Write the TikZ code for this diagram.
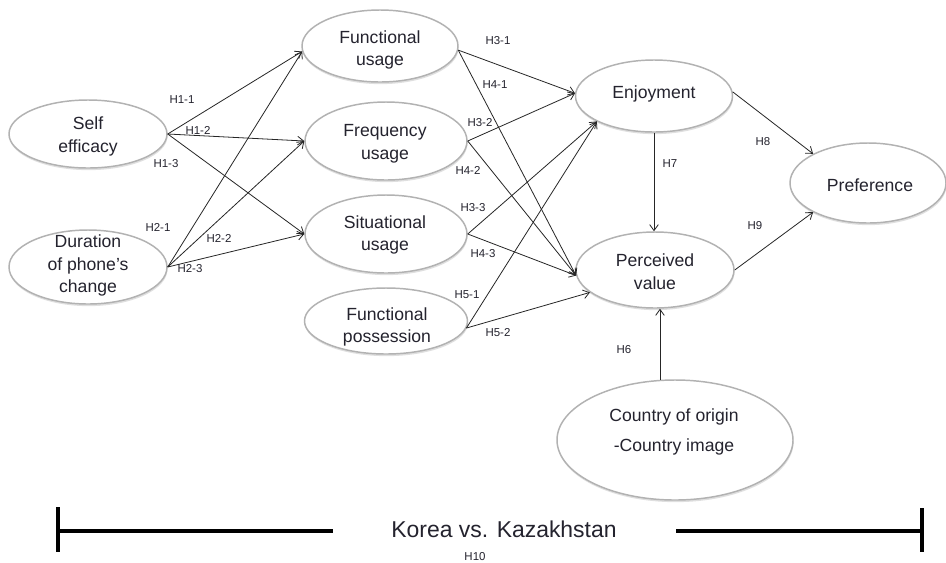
\documentclass[tikz,border=0pt]{standalone}
\usepackage{fontspec}
\setmainfont{Liberation Sans}
\usetikzlibrary{shapes.geometric,arrows.meta,shadows}
\definecolor{txt}{HTML}{24232E}
\pgfdeclareradialshading{ellsh}{\pgfpoint{0bp}{0bp}}{color(0bp)=(white); color(30bp)=(white); color(43bp)=(black!9); color(50bp)=(black!28)}
\begin{document}
\begin{tikzpicture}[x=0.75pt,y=-0.75pt,
  ell/.style 2 args={ellipse, inner sep=0pt, minimum width=#1*0.75pt, minimum height=#2*0.75pt,
    draw=gray!60, line width=1.1pt, shading=ellsh,
    drop shadow={shadow xshift=0.4pt, shadow yshift=-1.6pt, opacity=0.25, fill=gray}},
  tx/.style={align=center, text=txt, inner sep=0pt, font=\fontsize{13.2}{17}\selectfont},
  lab/.style={font=\fontsize{8.6}{10}\selectfont, text=txt, inner sep=0pt},
  arr/.style={-{Straight Barb[length=4.5pt,width=6.5pt]}, line width=0.6pt, draw=black!85},
  bar/.style={line width=2.4pt, black}
]
\useasboundingbox (0,0) rectangle (946,562);
\fill[white] (0,0) rectangle (946,562);

% ellipses
\node[ell={158}{68}] (se) at (88,134) {};
\node[ell={158}{74}] (dur) at (88,267) {};
\node[ell={156}{72}] (fu) at (380,46) {};
\node[ell={162}{78}] (fr) at (386,141) {};
\node[ell={162}{78}] (su) at (386,234) {};
\node[ell={163}{66}] (fp) at (386,321) {};
\node[ell={157}{72}] (enj) at (654,96) {};
\node[ell={158}{76}] (pv) at (655,270) {};
\node[ell={156}{80}] (pref) at (868,183) {};
\node[ell={236}{120}] (cty) at (675,440) {};

% texts
\node[tx] (se-t) at (88,136.5) {Self\\efficacy};
\node[tx] (dur-t) at (88,265.5) {Duration\\of phone’s\\change};
\node[tx] (fu-t) at (380,50) {Functional\\usage};
\node[tx] (fr-t) at (385,143.5) {Frequency\\usage};
\node[tx] (su-t) at (385,235) {Situational\\usage};
\node[tx] (fp-t) at (387,327) {Functional\\possession};
\node[tx] (enj-t) at (654,94) {Enjoyment};
\node[tx] (pv-t) at (655,271.5) {Perceived\\value};
\node[tx] (pref-t) at (870,185) {Preference};
\node[tx, font=\fontsize{13.2}{22.5}\selectfont] (cty-t) at (674,432) {Country of origin\\-Country image};

% arrows
\draw[arr] (se.east) -- (fu.184);
\draw[arr] (se.east) -- (fr.west);
\draw[arr] (se.east) -- (su.west);
\draw[arr] (dur.east) -- (fu.184);
\draw[arr] (dur.east) -- (fr.west);
\draw[arr] (dur.east) -- (su.west);
\draw[arr] (fu.357) -- (enj.178);
\draw[arr] (fu.357) -- (pv.184);
\draw[arr] (fr.east) -- (enj.178);
\draw[arr] (fr.east) -- (pv.184);
\draw[arr] (su.east) -- (enj.204);
\draw[arr] (su.east) -- (pv.184);
\draw[arr] (fp.355) -- (enj.204);
\draw[arr] (fp.355) -- (pv.199);
\draw[arr] (enj.south) -- (enj.south |- pv.north);
\draw[arr] (enj.3) -- (pref.152);
\draw[arr] (pv.east) -- (pref.208);
\draw[arr] (cty.104) -- (cty.104 |- pv.south);

% hypothesis labels
\node[lab] (h11) at (182,100) {H1-1};
\node[lab] (h12) at (198,130) {H1-2};
\node[lab] (h13) at (166,164) {H1-3};
\node[lab] (h21) at (158,227) {H2-1};
\node[lab] (h22) at (219,238) {H2-2};
\node[lab] (h23) at (190,269) {H2-3};
\node[lab] (h31) at (498,41) {H3-1};
\node[lab] (h41) at (495,85) {H4-1};
\node[lab] (h32) at (480,123) {H3-2};
\node[lab] (h42) at (468,170) {H4-2};
\node[lab] (h33) at (473,208) {H3-3};
\node[lab] (h43) at (483,254) {H4-3};
\node[lab] (h51) at (467,295) {H5-1};
\node[lab] (h52) at (498,333) {H5-2};
\node[lab] (h6) at (624,350) {H6};
\node[lab] (h7) at (670,164) {H7};
\node[lab] (h8) at (763,142) {H8};
\node[lab] (h9) at (755,226) {H9};

% bottom scale
\node[text=txt, inner sep=0pt, font=\fontsize{17.2}{20}\selectfont] (kor) at (504,529) {Korea vs. Kazakhstan};
\node[lab] (h10) at (475,557) {H10};
\coordinate (lt) at (58,507);
\coordinate (lb) at (58,552);
\coordinate (lm) at (58,531);
\coordinate (le) at (333,531);
\coordinate (rs) at (676,531);
\coordinate (rm) at (922,531);
\coordinate (rt) at (922,508);
\coordinate (rb) at (922,552);
\draw[bar] (lt) -- (lb);
\draw[bar] (lm) -- (le);
\draw[bar] (rs) -- (rm);
\draw[bar] (rt) -- (rb);
\end{tikzpicture}
\end{document}
